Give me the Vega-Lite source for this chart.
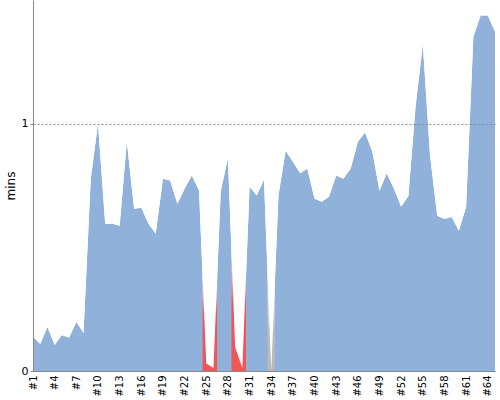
{
  "$schema": "https://vega.github.io/schema/vega-lite/v6.json",
  "width": 462,
  "height": 371,
  "autosize": {"type": "none"},
  "padding": {"left": 33, "top": 0, "right": 5, "bottom": 29},
  "config": {"view": {"stroke": null}, "font": "DejaVu Sans"},
  "data": {"values": [
    {"n": 1, "mins": 0.138}, {"n": 2, "mins": 0.109}, {"n": 3, "mins": 0.178}, {"n": 4, "mins": 0.105},
    {"n": 5, "mins": 0.146}, {"n": 6, "mins": 0.134}, {"n": 7, "mins": 0.198}, {"n": 8, "mins": 0.154},
    {"n": 9, "mins": 0.777}, {"n": 10, "mins": 1.0}, {"n": 11, "mins": 0.595}, {"n": 12, "mins": 0.595},
    {"n": 13, "mins": 0.587}, {"n": 14, "mins": 0.927}, {"n": 15, "mins": 0.656}, {"n": 16, "mins": 0.66},
    {"n": 17, "mins": 0.595}, {"n": 18, "mins": 0.555}, {"n": 19, "mins": 0.777}, {"n": 20, "mins": 0.77},
    {"n": 21, "mins": 0.676}, {"n": 22, "mins": 0.737}, {"n": 23, "mins": 0.79}, {"n": 24, "mins": 0.73},
    {"n": 25, "mins": 0.03}, {"n": 26, "mins": 0.012}, {"n": 27, "mins": 0.725}, {"n": 28, "mins": 0.86},
    {"n": 29, "mins": 0.097}, {"n": 30, "mins": 0.012}, {"n": 31, "mins": 0.745}, {"n": 32, "mins": 0.71},
    {"n": 33, "mins": 0.773}, {"n": 34, "mins": 0.0}, {"n": 35, "mins": 0.71}, {"n": 36, "mins": 0.89},
    {"n": 37, "mins": 0.846}, {"n": 38, "mins": 0.8}, {"n": 39, "mins": 0.818}, {"n": 40, "mins": 0.696},
    {"n": 41, "mins": 0.684}, {"n": 42, "mins": 0.705}, {"n": 43, "mins": 0.79}, {"n": 44, "mins": 0.777},
    {"n": 45, "mins": 0.818}, {"n": 46, "mins": 0.927}, {"n": 47, "mins": 0.964}, {"n": 48, "mins": 0.887},
    {"n": 49, "mins": 0.729}, {"n": 50, "mins": 0.8}, {"n": 51, "mins": 0.737}, {"n": 52, "mins": 0.664},
    {"n": 53, "mins": 0.708}, {"n": 54, "mins": 1.07}, {"n": 55, "mins": 1.32}, {"n": 56, "mins": 0.87},
    {"n": 57, "mins": 0.628}, {"n": 58, "mins": 0.615}, {"n": 59, "mins": 0.623}, {"n": 60, "mins": 0.567},
    {"n": 61, "mins": 0.664}, {"n": 62, "mins": 1.35}, {"n": 63, "mins": 1.437}, {"n": 64, "mins": 1.437},
    {"n": 65, "mins": 1.372}
  ]},
  "encoding": {
    "x": {
      "field": "n", "type": "quantitative",
      "scale": {"domain": [1, 65], "nice": false, "zero": false, "padding": 0},
      "axis": {
        "values": [1, 4, 7, 10, 13, 16, 19, 22, 25, 28, 31, 34, 37, 40, 43, 46, 49, 52, 55, 58, 61, 64],
        "labelExpr": "'#' + datum.value",
        "labelAngle": -90, "labelFontSize": 10, "labelColor": "#000",
        "ticks": false, "labelPadding": 4, "grid": false, "title": null,
        "domainColor": "#888", "labelFlush": false, "labelOverlap": false, "zindex": 1
      }
    }
  },
  "layer": [
    {
      "mark": {"type": "area", "color": "#8FB1DA", "opacity": 1},
      "encoding": {
        "y": {
          "field": "mins", "type": "quantitative",
          "scale": {"domain": [0, 1.5], "nice": false},
          "axis": {
            "values": [0, 1], "format": "d", "grid": true, "gridDash": [2, 2], "gridColor": "#888",
            "title": "mins", "titleFontWeight": "normal", "titleFontSize": 12, "titleColor": "#000", "titlePadding": 4,
            "labelFontSize": 11, "labelColor": "#000", "tickSize": 3, "tickColor": "#888",
            "domainColor": "#888", "labelFlush": false, "zindex": 1
          }
        }
      }
    },
    {
      "transform": [{"filter": "datum.n == 25 || datum.n == 26"}],
      "mark": {"type": "bar", "size": 7.3, "color": {"gradient": "linear", "x1": 0, "y1": 1, "x2": 0, "y2": 0, "stops": [{"offset": 0, "color": "#F25555"}, {"offset": 0.6, "color": "#F25555"}, {"offset": 1, "color": "#ffffff"}]}},
      "encoding": {"y": {"datum": 0.38}, "y2": {"datum": 0}}
    },
    {
      "transform": [{"filter": "datum.n == 29 || datum.n == 30"}],
      "mark": {"type": "bar", "size": 7.3, "color": {"gradient": "linear", "x1": 0, "y1": 1, "x2": 0, "y2": 0, "stops": [{"offset": 0, "color": "#F25555"}, {"offset": 0.55, "color": "#F25555"}, {"offset": 1, "color": "#ffffff"}]}},
      "encoding": {"y": {"datum": 0.5}, "y2": {"datum": 0}}
    },
    {
      "transform": [{"filter": "datum.n == 34"}],
      "mark": {"type": "bar", "size": 7.3, "color": {"gradient": "linear", "x1": 0, "y1": 1, "x2": 0, "y2": 0, "stops": [{"offset": 0, "color": "#B8B8B8"}, {"offset": 0.4, "color": "#BDBDBD"}, {"offset": 1, "color": "#ffffff"}]}},
      "encoding": {"y": {"datum": 0.4}, "y2": {"datum": 0}}
    },
    {
      "mark": {"type": "area", "color": "#ffffff", "opacity": 1},
      "encoding": {"y": {"field": "mins", "type": "quantitative"}, "y2": {"datum": 1.5}}
    }
  ]
}
